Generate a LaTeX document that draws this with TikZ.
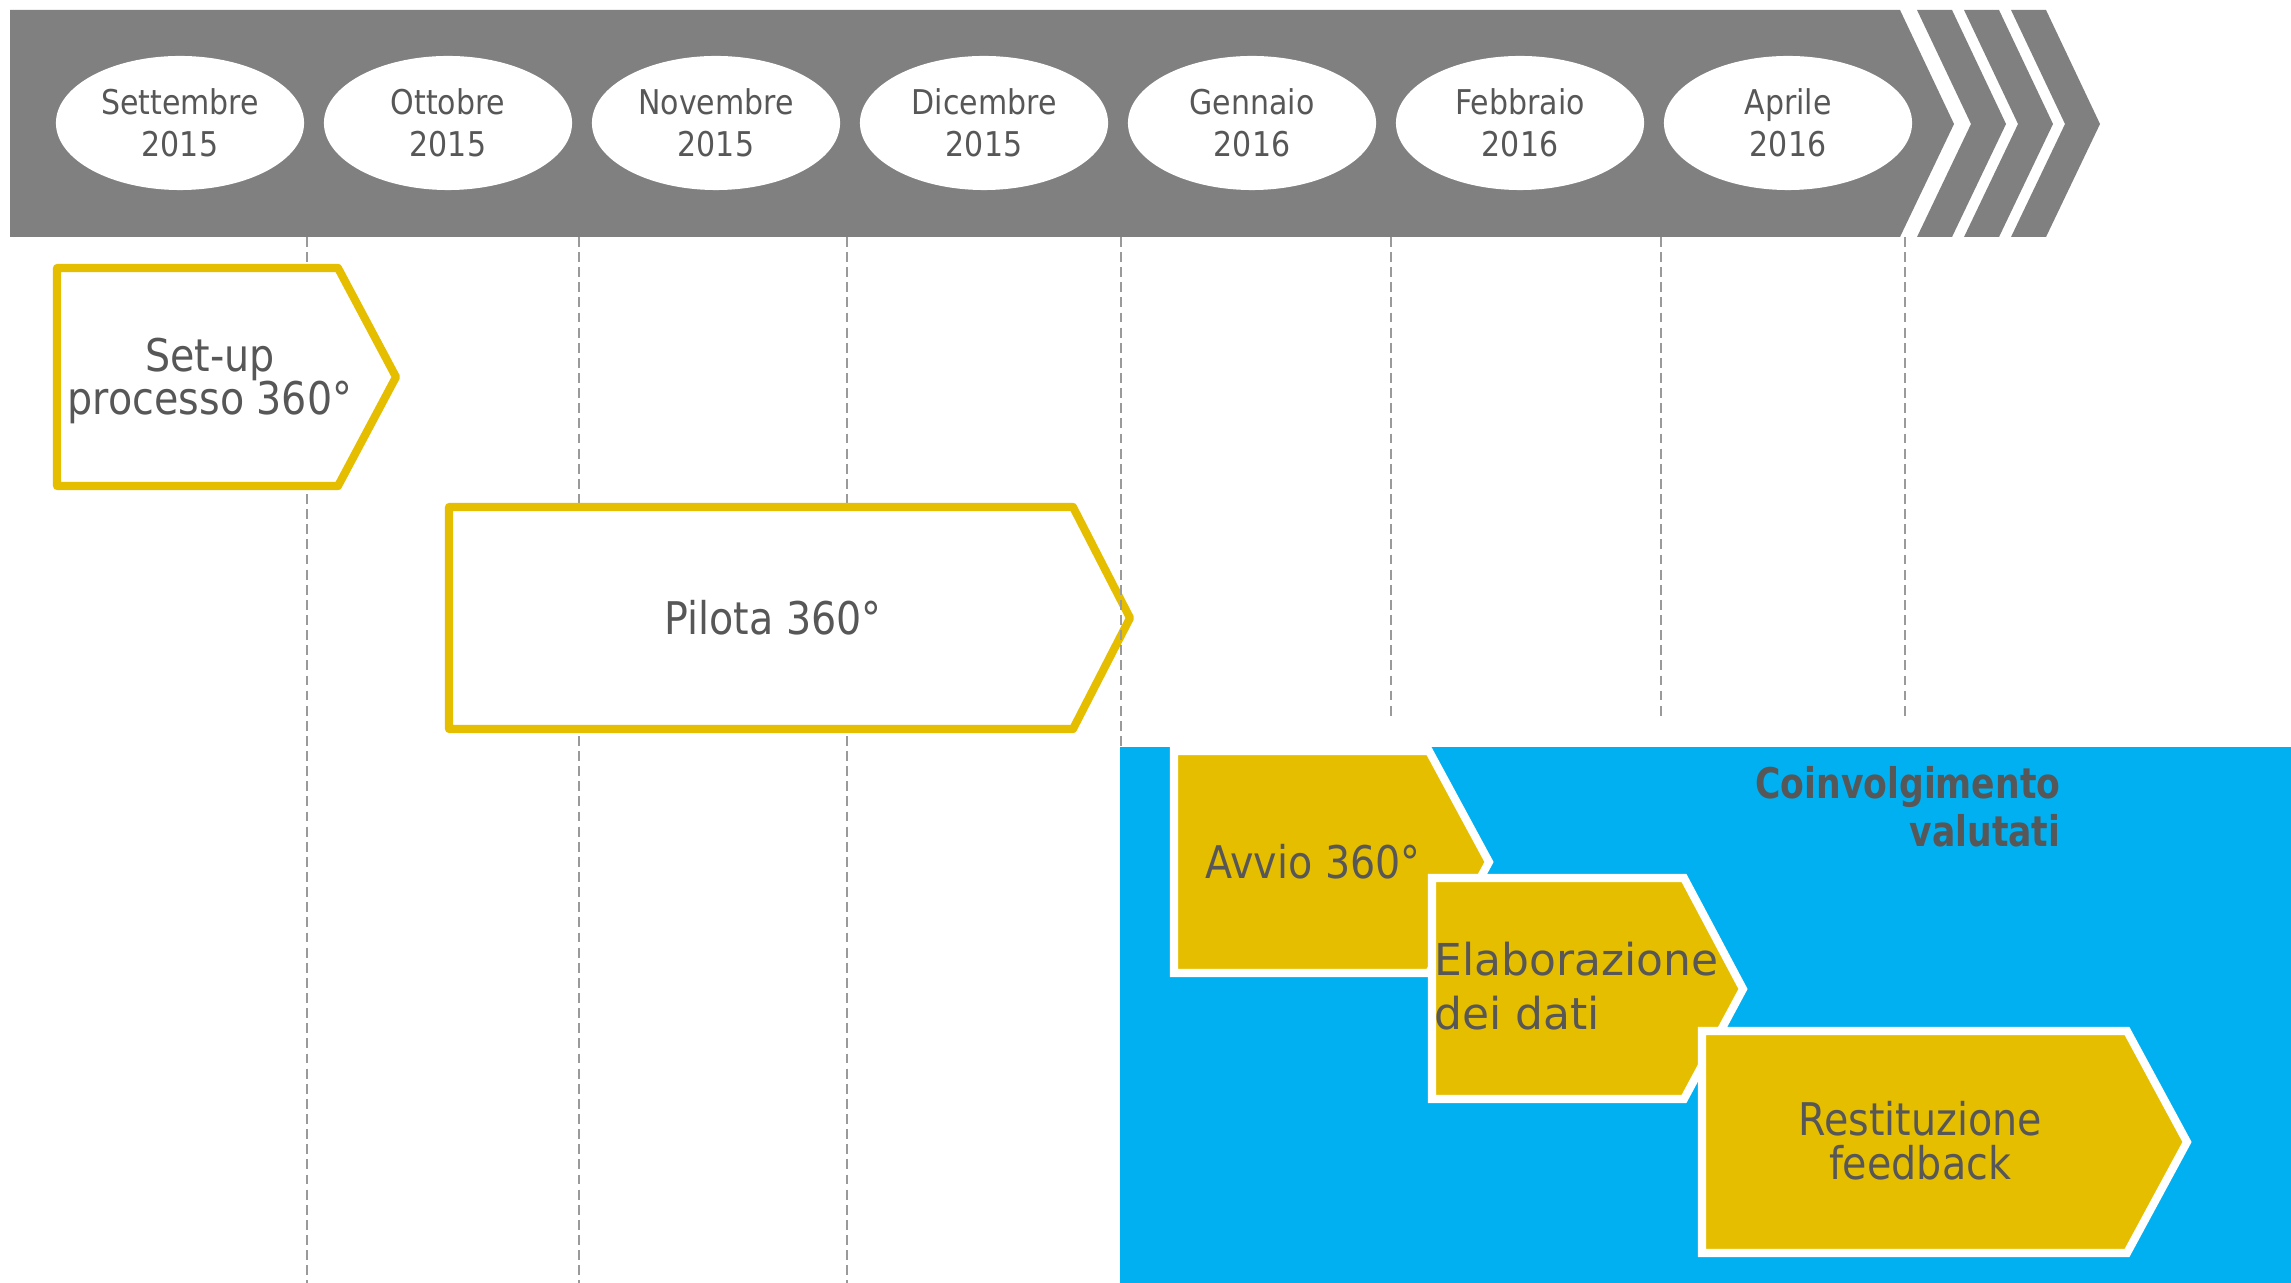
\documentclass[tikz,border=0pt]{standalone}
\usepackage{fontspec}
\setmainfont[FakeStretch=0.88]{DejaVu Sans}
\newfontfamily\wideface{DejaVu Sans}
\newfontfamily\narrowface[FakeStretch=0.82]{DejaVu Sans}
\usepackage{tikz}
\usetikzlibrary{shapes.geometric}
\definecolor{bandgray}{HTML}{808080}
\definecolor{eyyellow}{HTML}{E6BE00}
\definecolor{skyblue}{HTML}{00B0F0}
\definecolor{textgray}{HTML}{575757}
\definecolor{dashgray}{HTML}{9A9A9A}

\begin{document}
\begin{tikzpicture}
            [x=0.01cm,y=-0.01cm,
                band/.style={fill=bandgray,draw=none},
                month/.style={ellipse,fill=white,minimum width=2.48cm,minimum height=1.34cm,inner sep=0pt,align=center,text=textgray,font=\fontsize{9.7}{12}\selectfont},
                grid/.style={dashgray,line width=0.6pt,dash pattern=on 2.8pt off 1.5pt},
                phase/.style={draw=eyyellow,fill=white,line width=2.3pt,line join=round},
                task/.style={draw=white,fill=eyyellow,line width=2.3pt},
                boxtext/.style={text=textgray,align=center,inner sep=0pt,font=\fontsize{12.8}{12.4}\selectfont}]
            \useasboundingbox[fill=white] (0,0) rectangle (2291,1283);

            %draw the timeline band and its chevrons
            \fill[band] (10,10) -- (1900,10) -- (1954,124) -- (1900,237) -- (10,237) -- cycle;
            \foreach \x in {1917,1964,2011}
                \fill[band] (\x,10) -- ++(35,0) -- ++(54,114) -- ++(-54,113) -- ++(-35,0) -- ++(54,-113) -- cycle;

            %draw the months
            \foreach \m/\yr [count=\i] in {Settembre/2015,Ottobre/2015,Novembre/2015,Dicembre/2015,Gennaio/2016,Febbraio/2016,Aprile/2016}
                \node[month] (m\i) at ({180+268*(\i-1)},123) {\m\\\yr};

            %draw the month separators
            \foreach \x in {307,579,847}
                \draw[grid] (\x,237) -- (\x,1283);
            \foreach \x in {1391,1661,1905}
                \draw[grid] (\x,237) -- (\x,717);

            %draw the first two phases
            \draw[phase] (57,268) -- (338,268) -- (396,377) -- (338,486) -- (57,486) -- cycle;
            \node[boxtext] (setup) at (210,381) {Set-up\\processo 360°};
            \draw[phase] (449,507) -- (1073,507) -- (1130,618) -- (1073,729) -- (449,729) -- cycle;
            \node[boxtext] (pilota) at (773,618) {Pilota 360°};
            \draw[grid] (1121,237) -- (1121,747);

            %draw the area of the evaluated people
            \fill[skyblue] (1120,747) rectangle (2291,1283);
            \node[boxtext,anchor=east,align=right,font=\narrowface\bfseries\fontsize{12}{13.7}\selectfont] (coinv) at (2061,807) {Coinvolgimento\\valutati};

            %draw the steps
            \draw[task] (1174,751) -- (1429,751) -- (1489,862) -- (1429,973) -- (1174,973) -- cycle;
            \node[boxtext] (avvio) at (1313,862) {Avvio 360°};
            \draw[task] (1432,878) -- (1684,878) -- (1743,989) -- (1684,1099) -- (1432,1099) -- cycle;
            \node[boxtext,anchor=west,align=left,font=\wideface\fontsize{12.5}{15.4}\selectfont] (elab) at (1434,986) {Elaborazione\\dei dati};
            \draw[task] (1702,1031) -- (2127,1031) -- (2187,1142) -- (2127,1253) -- (1702,1253) -- cycle;
            \node[boxtext] (restit) at (1920,1141) {Restituzione\\feedback};
        \end{tikzpicture}
\end{document}
